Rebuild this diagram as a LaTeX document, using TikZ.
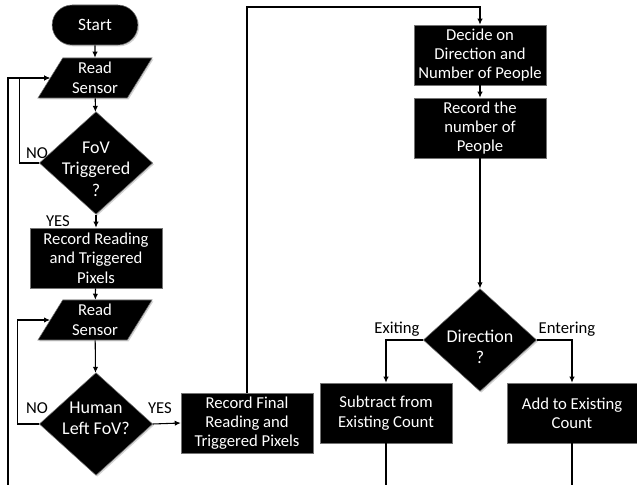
\documentclass[tikz,border=0pt]{standalone}
\usepackage{fontspec}
\setmainfont{Carlito}
\usetikzlibrary{shapes.geometric,shapes.misc,arrows.meta,shadows}
\tikzset{
  base/.style={fill=black, draw=black!55, line width=0.4pt, text=white, align=center,
    font=\fontsize{12.5}{14.5}\selectfont, drop shadow={shadow xshift=1pt, shadow yshift=-1pt, fill=black!35}},
  terminal/.style={base, rounded rectangle, minimum width=71pt, minimum height=30pt, font=\fontsize{13}{15}\selectfont},
  io/.style={base, trapezium, trapezium left angle=61, trapezium right angle=119,
    trapezium stretches=true, minimum width=86pt, minimum height=30pt, inner sep=0pt, font=\fontsize{12.5}{15}\selectfont},
  decision/.style={base, diamond, minimum width=85pt, minimum height=77pt, inner sep=0pt},
  dtext/.style={text=white, align=center, font=\fontsize{13.5}{16}\selectfont},
  process/.style={base, rectangle, minimum width=99pt, minimum height=45pt, inner sep=1pt},
  tag/.style={font=\fontsize{12.5}{15}\selectfont, text=black},
  flow/.style={-{Latex[length=4.5pt,width=4pt]}, line width=0.8pt},
  line/.style={line width=0.8pt}
}
\begin{document}
\begin{tikzpicture}[x=0.75pt,y=-0.75pt]
\useasboundingbox (0,0) rectangle (637,485);
\node[terminal] (start) at (95,25) {Start};
\node[io] (read1) at (95,78) {Read\\Sensor};
\node[decision] (fov) at (96,163) {};
\node[dtext] (fovtxt) at (96,169) {FoV\\Triggered\\?};
\node[process] (rec1) at (96,258) {Record Reading\\and Triggered\\Pixels};
\node[io] (read2) at (95,320) {Read\\Sensor};
\node[decision] (human) at (96,424) {};
\node[dtext] (humantxt) at (96,418) {Human\\Left FoV?};
\node[process] (final) at (247,423) {Record Final\\Reading and\\Triggered Pixels};
\node[process] (decide) at (480,55) {Decide on\\Direction and\\Number of People};
\node[process] (count) at (480,128) {Record the\\number of\\People};
\node[decision] (dir) at (480,340) {};
\node[dtext] (dirtxt) at (480,347) {Direction\\?};
\node[process] (sub) at (386,413) {Subtract from\\Existing Count};
\node[process, minimum width=97.5pt] (add) at (572,413) {Add to Existing\\Count};

\node[tag] (no1) at (37,153) {NO};
\node[tag] (yes1) at (58,221) {YES};
\node[tag] (no2) at (37,408) {NO};
\node[tag] (yes2) at (160,408) {YES};
\node[tag] (exit) at (397,329) {Exiting};
\node[tag] (enter) at (567,329) {Entering};

\coordinate (lb) at (8,485);
\coordinate (turn) at (247,7);
\coordinate (sb) at (386,485);
\coordinate (ab) at (572,485);

\draw[flow] (start) -- (read1);
\draw[flow] (read1) -- (fov);
\draw[flow] (fov) -- (rec1);
\draw[flow] (rec1) -- (read2);
\draw[flow] (read2) -- (human);
\draw[flow] (fov.west) -- ++(-20,0) |- (read1.west);
\draw[flow] (lb) |- (read1.west);
\draw[flow] (human.west) -- ++(-22,0) |- (read2.west);
\draw[flow] (human.east) -- (final.west);
\draw[flow] (final.north) -- (turn) -| (decide.north);
\draw[flow] (decide) -- (count);
\draw[flow] (count) -- (dir);
\draw[flow] (dir.west) -| (sub.north);
\draw[flow] (dir.east) -| (add.north);
\draw[line] (sub) -- (sb);
\draw[line] (add) -- (ab);
\end{tikzpicture}
\end{document}
